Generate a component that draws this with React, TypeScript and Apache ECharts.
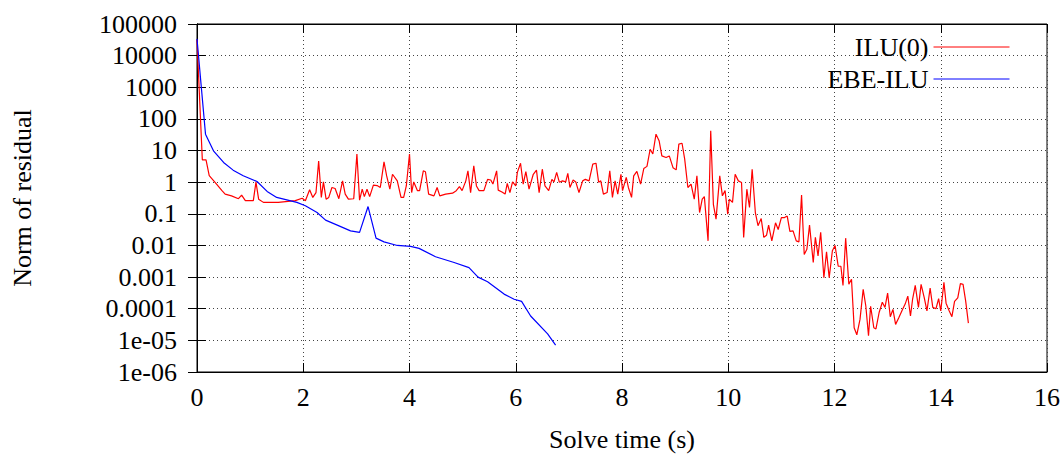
import React, { useEffect, useRef } from "react";
import * as echarts from "echarts";

const FONT = "'Liberation Serif', 'DejaVu Serif', serif";

const xTickInterval = 2;
const yTickLabels = ["1e-06", "1e-05", "0.0001", "0.001", "0.01", "0.1", "1", "10", "100", "1000", "10000", "100000"];

const ilu0Time = [
  0.00, 0.10, 0.17, 0.23, 0.34, 0.47, 0.53, 0.65, 0.78, 0.84, 0.91, 1.06, 1.11, 1.16, 1.25, 1.53, 1.85, 1.98, 2.04, 2.12,
  2.18, 2.24, 2.29, 2.34, 2.38, 2.43, 2.48, 2.54, 2.60, 2.67, 2.74, 2.79, 2.85, 2.95, 3.01, 3.06, 3.11, 3.15, 3.20, 3.25,
  3.32, 3.39, 3.45, 3.52, 3.57, 3.63, 3.68, 3.77, 3.84, 3.89, 3.94, 4.00, 4.04, 4.08, 4.15, 4.19, 4.26, 4.30, 4.36, 4.46,
  4.52, 4.57, 4.68, 4.81, 4.88, 4.94, 4.99, 5.06, 5.10, 5.15, 5.21, 5.26, 5.31, 5.40, 5.47, 5.53, 5.57, 5.64, 5.67, 5.74,
  5.80, 5.84, 5.89, 5.94, 6.00, 6.03, 6.09, 6.14, 6.19, 6.25, 6.33, 6.39, 6.44, 6.50, 6.55, 6.62, 6.68, 6.72, 6.77, 6.82,
  6.88, 6.94, 6.98, 7.02, 7.08, 7.13, 7.19, 7.26, 7.31, 7.38, 7.45, 7.51, 7.56, 7.60, 7.65, 7.72, 7.77, 7.82, 7.87, 7.92,
  7.98, 8.01, 8.08, 8.12, 8.18, 8.22, 8.28, 8.35, 8.41, 8.47, 8.53, 8.58, 8.64, 8.70, 8.75, 8.83, 8.89, 8.96, 9.02, 9.07,
  9.13, 9.18, 9.24, 9.30, 9.36, 9.41, 9.46, 9.51, 9.55, 9.62, 9.67, 9.72, 9.77, 9.84, 9.89, 9.94, 9.99, 10.02, 10.08, 10.13,
  10.19, 10.25, 10.29, 10.35, 10.40, 10.45, 10.51, 10.56, 10.62, 10.67, 10.72, 10.76, 10.82, 10.89, 10.94, 11.00, 11.06, 11.11, 11.16, 11.22,
  11.28, 11.33, 11.38, 11.43, 11.48, 11.53, 11.60, 11.64, 11.69, 11.74, 11.80, 11.85, 11.90, 11.96, 12.01, 12.07, 12.12, 12.16, 12.21, 12.27,
  12.32, 12.37, 12.42, 12.48, 12.54, 12.59, 12.64, 12.68, 12.74, 12.78, 12.84, 12.90, 12.95, 13.00, 13.05, 13.10, 13.15, 13.21, 13.28, 13.33,
  13.38, 13.43, 13.47, 13.52, 13.58, 13.63, 13.69, 13.74, 13.80, 13.85, 13.91, 13.96, 14.00, 14.06, 14.10, 14.16, 14.21, 14.26, 14.32, 14.37,
  14.42, 14.47, 14.52,
];

const ilu0Residual = [
  32000, 5.1, 5.1, 1.6, 0.98, 0.54, 0.42, 0.37, 0.30, 0.39, 0.26, 0.26, 1.0, 0.29, 0.23, 0.23, 0.26, 0.31, 0.26, 0.58,
  0.33, 0.47, 4.68, 0.33, 1.02, 0.29, 0.33, 0.68, 0.63, 0.30, 1.10, 0.42, 0.29, 0.30, 7.76, 0.27, 0.60, 0.35, 0.60, 0.35,
  0.81, 0.78, 0.68, 4.37, 1.58, 0.60, 1.78, 1.10, 0.33, 0.33, 0.76, 7.76, 0.47, 1.02, 0.54, 0.54, 2.29, 2.14, 0.42, 0.37,
  0.68, 0.37, 0.42, 0.45, 0.54, 0.72, 0.54, 1.10, 2.29, 0.47, 3.31, 0.76, 0.54, 0.54, 1.23, 1.17, 0.87, 2.29, 0.56, 0.49,
  0.42, 0.91, 0.47, 1.02, 0.76, 2.04, 3.98, 0.87, 2.14, 0.60, 1.78, 2.40, 0.47, 2.57, 0.76, 0.54, 1.23, 1.02, 2.04, 1.00,
  1.10, 1.02, 1.91, 0.68, 1.17, 1.02, 0.47, 1.10, 1.23, 1.10, 3.72, 3.98, 1.00, 1.10, 0.42, 0.47, 2.29, 0.33, 1.10, 0.42,
  1.78, 0.54, 1.41, 0.68, 0.33, 1.58, 2.19, 0.87, 2.69, 3.16, 11, 7.76, 33, 20, 6.76, 6.03, 6.76, 2.88, 2.45, 16,
  17, 5.37, 0.68, 0.87, 0.29, 1.58, 0.11, 0.29, 0.35, 0.014, 42, 0.20, 0.068, 1.58, 0.37, 0.54, 0.098, 0.29, 0.23, 1.78,
  1.10, 0.98, 0.018, 0.60, 0.16, 2.57, 0.11, 0.042, 0.071, 0.018, 0.021, 0.044, 0.014, 0.052, 0.032, 0.076, 0.076, 0.085, 0.028, 0.029,
  0.014, 0.013, 0.39, 0.0052, 0.0076, 0.044, 0.0029, 0.018, 0.0047, 0.026, 0.00095, 0.0063, 0.00095, 0.0068, 0.010, 0.0022, 0.0022, 0.00054, 0.017, 0.0006,
  0.00085, 0.000025, 0.000015, 0.000046, 0.00041, 0.00012, 0.000014, 0.00012, 0.000025, 0.000023, 0.000076, 0.00016, 0.00011, 0.00031, 0.000056, 0.000095, 0.000032, 0.000052, 0.000095, 0.00014,
  0.00025, 0.000059, 0.0002, 0.00055, 0.00011, 0.00059, 0.00022, 0.000085, 0.00045, 0.00011, 0.0001, 0.00021, 0.000085, 0.00068, 0.00015, 0.000085, 0.000056, 0.00017, 0.00022, 0.00062,
  0.00059, 0.00017, 0.000035,
];

const ebeIluTime = [
  0.00, 0.16, 0.31, 0.50, 0.68, 0.87, 1.13, 1.32, 1.50, 1.88, 2.04, 2.26, 2.42, 2.64, 2.89, 3.06, 3.22, 3.37, 3.52, 3.77,
  4.02, 4.18, 4.49, 4.84, 5.12, 5.29, 5.47, 5.78, 5.97, 6.11, 6.28, 6.60, 6.75,
];

const ebeIluResidual = [
  34000, 33, 9.8, 4.2, 2.4, 1.6, 1.05, 0.51, 0.33, 0.23, 0.18, 0.11, 0.063, 0.044, 0.029, 0.026, 0.17, 0.017, 0.013, 0.010,
  0.0093, 0.0081, 0.0044, 0.0029, 0.002, 0.001, 0.00071, 0.00029, 0.0002, 0.00017, 0.000059, 0.000016, 0.0000071,
];

const seriesNames = ["ILU(0)", "EBE-ILU"];
const seriesColors = ["#ff0000", "#0000ff"];

export default function App() {
  const ref = useRef<HTMLDivElement>(null);
  useEffect(() => {
    if (!ref.current) return;
    const chart = echarts.init(ref.current, undefined, { renderer: "svg" });
    const black = "#000";
    const gridLine = { show: true, lineStyle: { type: [1, 3], color: "#444", width: 1 } };
    const tick = { show: true, inside: true, length: 9, lineStyle: { color: black, width: 1 } };
    const yFmt = (v: number) => {
      const i = Math.round(Math.log10(v)) + 6;
      return yTickLabels[i] ?? "";
    };
    const pairs = (xs: number[], ys: number[]) => xs.map((x, i) => [x, ys[i]]);
    const logAxisBase = {
      type: "log",
      logBase: 10,
      min: 1e-6,
      max: 1e5,
      interval: 1,
      splitNumber: 11,
    };
    chart.setOption({
      animation: false,
      backgroundColor: "#fff",
      textStyle: { fontFamily: FONT },
      grid: {
        left: 197,
        right: 16,
        top: 24,
        bottom: 82,
        show: true,
        borderColor: black,
        borderWidth: 1,
        containLabel: false,
        outerBoundsMode: "none",
      },
      legend: {
        orient: "vertical",
        right: 53,
        top: 34,
        align: "right",
        padding: 0,
        itemWidth: 76,
        itemHeight: 26,
        itemGap: 6,
        itemStyle: { opacity: 0 },
        lineStyle: { width: 1 },
        textStyle: { fontSize: 26, color: black, fontFamily: FONT },
        data: seriesNames,
      },
      xAxis: [
        {
          type: "value",
          min: 0,
          max: 16,
          interval: xTickInterval,
          position: "bottom",
          axisLine: { show: true, lineStyle: { color: black, width: 1 } },
          axisTick: tick,
          axisLabel: { fontSize: 26, color: black, margin: 12, fontFamily: FONT },
          splitLine: gridLine,
          name: "Solve time (s)",
          nameLocation: "middle",
          nameGap: 54,
          nameTextStyle: { fontSize: 26, color: black, fontFamily: FONT },
        },
        {
          type: "value",
          min: 0,
          max: 16,
          interval: xTickInterval,
          position: "top",
          axisLine: { show: true, lineStyle: { color: black, width: 1 } },
          axisTick: tick,
          axisLabel: { show: false },
          splitLine: { show: false },
        },
      ],
      yAxis: [
        {
          ...logAxisBase,
          position: "left",
          axisLine: { show: true, lineStyle: { color: black, width: 1 } },
          axisTick: tick,
          axisLabel: { fontSize: 26, color: black, margin: 20, fontFamily: FONT, formatter: yFmt },
          splitLine: gridLine,
          name: "Norm of residual",
          nameLocation: "middle",
          nameGap: 162,
          nameRotate: 90,
          nameTextStyle: { fontSize: 26, color: black, fontFamily: FONT },
        },
        {
          ...logAxisBase,
          position: "right",
          axisLine: { show: true, lineStyle: { color: black, width: 1 } },
          axisTick: tick,
          axisLabel: { show: false },
          splitLine: { show: false },
        },
      ],
      series: [
        {
          name: seriesNames[0],
          type: "line",
          xAxisIndex: 0,
          yAxisIndex: 0,
          data: pairs(ilu0Time, ilu0Residual),
          symbol: "none",
          lineStyle: { color: seriesColors[0], width: 1.2 },
          itemStyle: { color: seriesColors[0] },
          z: 3,
        },
        {
          name: seriesNames[1],
          type: "line",
          xAxisIndex: 0,
          yAxisIndex: 0,
          data: pairs(ebeIluTime, ebeIluResidual),
          symbol: "none",
          lineStyle: { color: seriesColors[1], width: 1.2 },
          itemStyle: { color: seriesColors[1] },
          z: 4,
        },
      ],
    });
    return () => chart.dispose();
  }, []);
  return <div ref={ref} style={{ width: 1063, height: 454, position: "absolute", left: 0, top: 0 }} />;
}
